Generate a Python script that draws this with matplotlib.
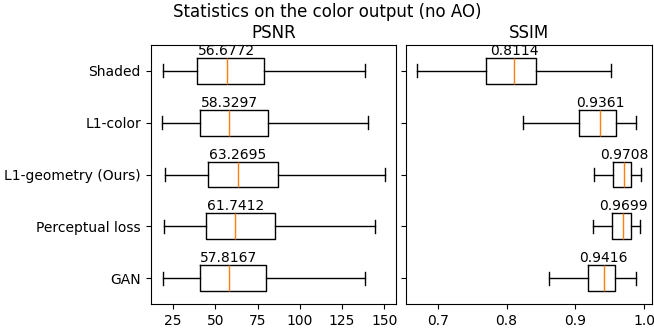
import matplotlib
matplotlib.use("Agg")
import matplotlib.pyplot as plt

methods = ["Shaded", "L1-color", "L1-geometry (Ours)", "Perceptual loss", "GAN"]

# PSNR box stats: low whisker, q1, median, q3, high whisker
psnr_low = [18.8, 18.3, 20.4, 19.5, 18.9]
psnr_q1 = [39.2, 40.7, 45.6, 44.5, 40.9]
psnr_med = [56.6772, 58.3297, 63.2695, 61.7412, 57.8167]
psnr_q3 = [79.1, 81.3, 87.4, 85.4, 80.1]
psnr_high = [138.8, 140.2, 150.4, 144.3, 138.8]

# SSIM box stats
ssim_low = [0.6694, 0.8244, 0.927, 0.926, 0.862]
ssim_q1 = [0.7705, 0.9051, 0.9553, 0.9538, 0.9188]
ssim_med = [0.8114, 0.9361, 0.9708, 0.9699, 0.9416]
ssim_q3 = [0.8434, 0.9586, 0.9815, 0.9815, 0.9572]
ssim_high = [0.9523, 0.9882, 0.995, 0.9946, 0.9882]


def make_stats(low, q1, med, q3, high):
    stats = []
    for i in range(len(med)):
        stats.append(dict(whislo=low[i], q1=q1[i], med=med[i], q3=q3[i],
                          whishi=high[i], fliers=[], label=methods[i]))
    return stats


fig = plt.figure(figsize=(6.54, 3.29), dpi=100)
ax1 = fig.add_axes([0.2304, 0.076, 0.3751, 0.787])
ax2 = fig.add_axes([0.6203, 0.076, 0.3762, 0.787], sharey=ax1)

positions = list(range(1, len(methods) + 1))

ax1.bxp(make_stats(psnr_low, psnr_q1, psnr_med, psnr_q3, psnr_high),
        positions=positions, vert=False, showfliers=False)
ax2.bxp(make_stats(ssim_low, ssim_q1, ssim_med, ssim_q3, ssim_high),
        positions=positions, vert=False, showfliers=False)

for i, p in enumerate(positions):
    ax1.text(psnr_med[i], p - 0.25, "%.4f" % psnr_med[i],
             ha="center", va="bottom", fontsize=10)
    ax2.text(ssim_med[i], p - 0.25, "%.4f" % ssim_med[i],
             ha="center", va="bottom", fontsize=10)

ax1.set_yticks(positions)
ax1.set_yticklabels(methods)
ax1.set_ylim(5.5, 0.5)
plt.setp(ax2.get_yticklabels(), visible=False)

ax1.set_xticks([25, 50, 75, 100, 125, 150])
ax2.set_xticks([0.7, 0.8, 0.9, 1.0])

ax1.set_title("PSNR", pad=5)
ax2.set_title("SSIM", pad=5)
fig.suptitle("Statistics on the color output (no AO)", y=0.992)

fig.savefig("out.png", dpi=100)
